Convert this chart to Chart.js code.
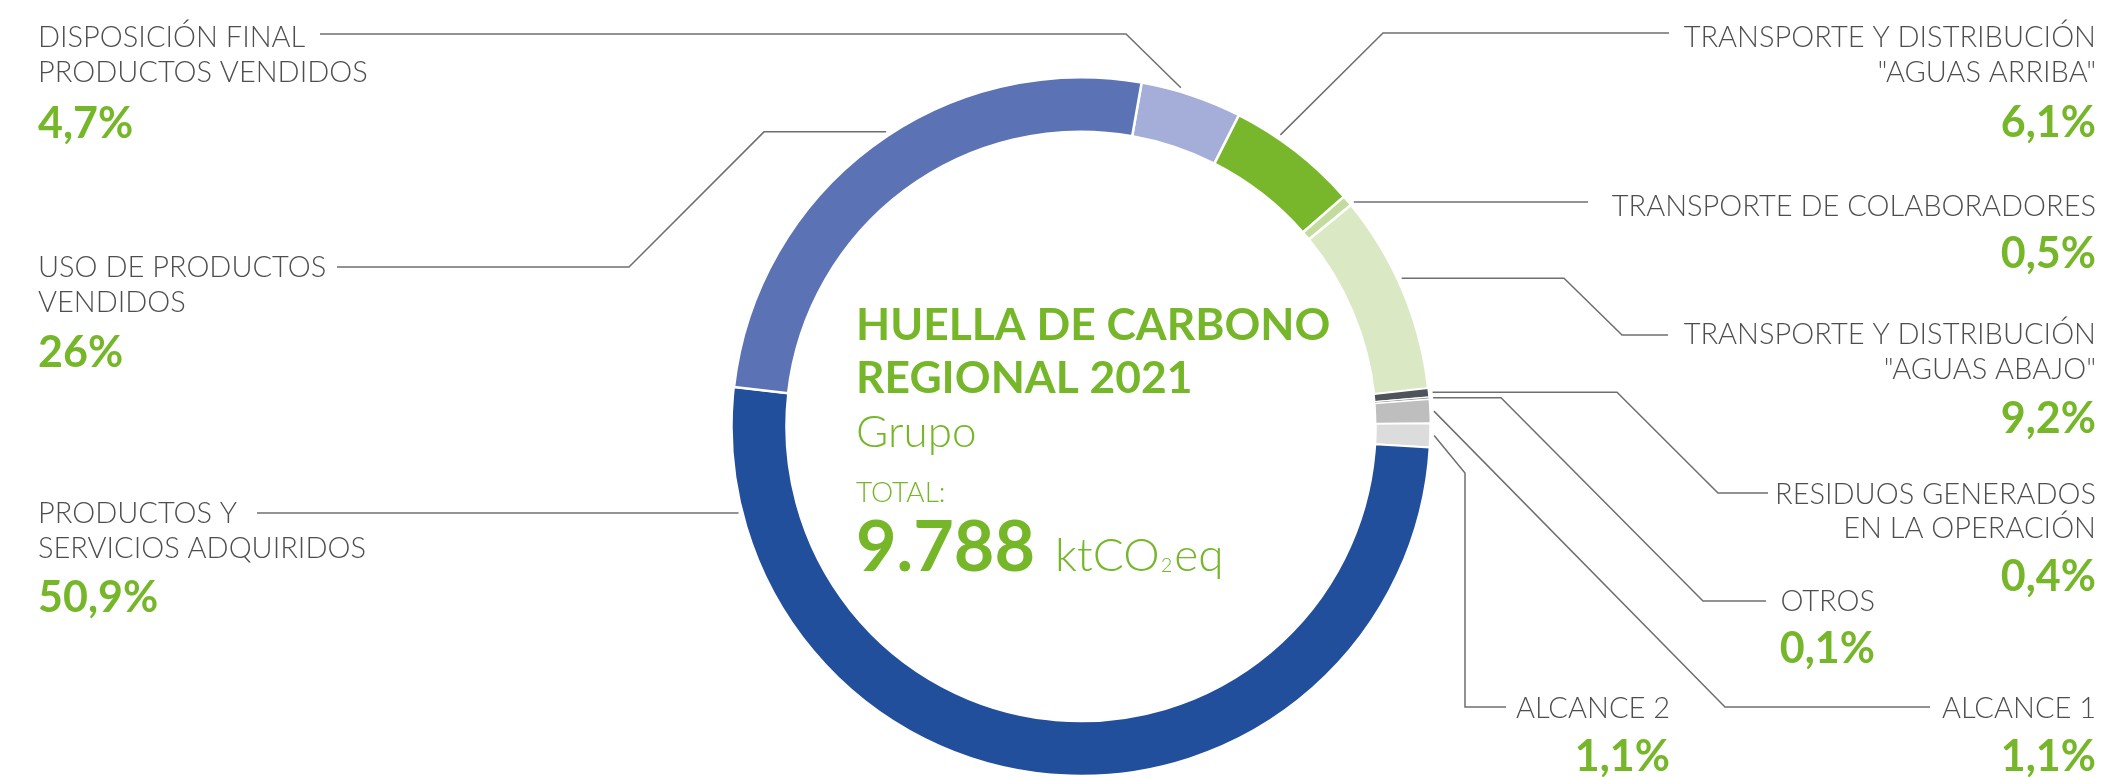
<!DOCTYPE html>
<html lang="es">
<head>
<meta charset="utf-8">
<title>Huella de carbono regional 2021</title>
<script src="https://cdn.jsdelivr.net/npm/chart.js@4.4.1/dist/chart.umd.min.js"></script>
<style>
  html, body { margin: 0; padding: 0; background: #fff; overflow: hidden; }
  #wrap { position: relative; width: 2120px; height: 777px; }
</style>
</head>
<body>
<div id="wrap"><canvas id="chart"></canvas></div>
<script>
// Emission categories, clockwise from the top of the ring
const categories = [
  ["DISPOSICIÓN FINAL", "PRODUCTOS VENDIDOS"],
  ["TRANSPORTE Y DISTRIBUCIÓN", "\"AGUAS ARRIBA\""],
  ["TRANSPORTE DE COLABORADORES"],
  ["TRANSPORTE Y DISTRIBUCIÓN", "\"AGUAS ABAJO\""],
  ["RESIDUOS GENERADOS", "EN LA OPERACIÓN"],
  ["OTROS"],
  ["ALCANCE 1"],
  ["ALCANCE 2"],
  ["PRODUCTOS Y", "SERVICIOS ADQUIRIDOS"],
  ["USO DE PRODUCTOS", "VENDIDOS"],
];
// share of the total footprint, %
const shares = [4.7, 6.1, 0.5, 9.2, 0.4, 0.1, 1.1, 1.1, 50.9, 26];
const totalKt = 9788;
const titleLines = ["HUELLA DE CARBONO", "REGIONAL 2021"];
const subtitle = "Grupo";

const palette = ["#a5aed8", "#78b72b", "#c3dc9d", "#dae8c4", "#4f535a",
                 "#9b9b9b", "#bebebe", "#dcdcdc", "#224f9c", "#5b72b5"];
const sliceBorder = [2.5, 2.5, 2.5, 2.5, 1.5, 1, 1.3, 2, 2, 2.5];

const GREEN = "#76b72a";
const GREY = "#4e4e4e";
const LEADER = "#6f6f6f";

// f: where along the slice the leader starts; path: bend points
// (a null y keeps the segment level with the anchor); then the text block
const callouts = [
  { f: 0.38, path: [[1126, 34], [320, 34]], align: "left", x: 38, lines: [47, 82], pct: 138 },
  { f: 0.34, path: [[1383, 33], [1669, 33]], align: "right", x: 2096, lines: [47, 82], pct: 137 },
  { f: 0.95, path: [[1588, null]], align: "right", x: 2096, lines: [216], pct: 268 },
  { f: 0.44, path: [[1564, null], [1622, 335], [1668, 335]], align: "right", x: 2096, lines: [344, 379], pct: 433 },
  { f: 0.5, path: [[1617, null], [1718, 493], [1768, 493]], align: "right", x: 2096, lines: [504, 538], pct: 591 },
  { f: 0.5, path: [[1501, null], [1703, 601], [1766, 601]], align: "right", x: 1875, lines: [611], pct: 663 },
  { f: 0.5, path: [[1725, 707], [1930, 707]], align: "right", x: 2096, lines: [718], pct: 771 },
  { f: 0.5, path: [[1465, 473], [1465, 707], [1506, 707]], align: "right", x: 1670, lines: [718], pct: 771 },
  { f: 0.887, path: [[257, null]], align: "left", x: 38, lines: [523, 558], pct: 612 },
  { f: 0.535, path: [[764, null], [629, 267], [337, 267]], align: "left", x: 38, lines: [277, 312], pct: 367 },
];

const fmtPct = (v) => String(v).replace(".", ",") + "%";
const fmtThousands = (v) => String(v).replace(/\B(?=(\d{3})+(?!\d))/g, ".");

const calloutPlugin = {
  id: "callouts",
  afterDraw(chart) {
    const { ctx } = chart;
    const arcs = chart.getDatasetMeta(0).data;
    ctx.save();
    ctx.textBaseline = "alphabetic";
    ctx.lineJoin = "miter";
    arcs.forEach((arc, i) => {
      const c = callouts[i];
      const { x, y, startAngle, endAngle, outerRadius } =
        arc.getProps(["x", "y", "startAngle", "endAngle", "outerRadius"], true);
      const a = startAngle + (endAngle - startAngle) * c.f;
      const r = outerRadius + 4;
      const ax = x + Math.cos(a) * r;
      const ay = y + Math.sin(a) * r;

      ctx.beginPath();
      ctx.moveTo(ax, ay);
      c.path.forEach(([px, py]) => ctx.lineTo(px, py === null ? ay : py));
      ctx.strokeStyle = LEADER;
      ctx.lineWidth = 1.5;
      ctx.stroke();

      ctx.textAlign = c.align;
      ctx.fillStyle = GREY;
      ctx.font = "300 29px Lato";
      categories[i].forEach((t, k) => ctx.fillText(t, c.x, c.lines[k]));
      ctx.fillStyle = GREEN;
      ctx.font = "700 43px Lato";
      ctx.fillText(fmtPct(shares[i]), c.x, c.pct);
    });

    // title block inside the ring
    const tx = 856;
    ctx.textAlign = "left";
    ctx.fillStyle = GREEN;
    ctx.font = "700 44.4px Lato";
    ctx.fillText(titleLines[0], tx, 340);
    ctx.fillText(titleLines[1], tx, 393);
    ctx.font = "300 44px Lato";
    ctx.fillText(subtitle, tx, 447);
    ctx.font = "300 28px Lato";
    ctx.fillText("TOTAL:", tx, 502);
    ctx.font = "700 70px Lato";
    const total = fmtThousands(totalKt);
    ctx.fillText(total, tx, 571);
    let ux = tx + ctx.measureText(total).width + 20;
    ctx.font = "300 46px Lato";
    ctx.fillText("ktCO", ux, 571);
    ux += ctx.measureText("ktCO").width + 1;
    ctx.font = "300 20px Lato";
    ctx.fillText("2", ux, 572);
    ux += ctx.measureText("2").width + 2;
    ctx.font = "300 46px Lato";
    ctx.fillText("eq", ux, 571);
    ctx.restore();
  },
};

function build() {
  new Chart(document.getElementById("chart"), {
    type: "doughnut",
    data: {
      labels: categories,
      datasets: [{
        data: shares,
        backgroundColor: palette,
        borderColor: "#ffffff",
        borderWidth: sliceBorder,
      }],
    },
    options: {
      responsive: true,
      maintainAspectRatio: false,
      animation: false,
      rotation: 10,
      cutout: "84.4%",
      layout: { padding: { left: 730.5, right: 688.5, top: 76, bottom: 0 } },
      plugins: {
        legend: { display: false },
        tooltip: { enabled: false },
      },
    },
    plugins: [calloutPlugin],
  });
}

Promise.all([
  document.fonts.load("300 29px Lato"),
  document.fonts.load("700 43px Lato"),
]).then(build, build);
</script>
</body>
</html>
